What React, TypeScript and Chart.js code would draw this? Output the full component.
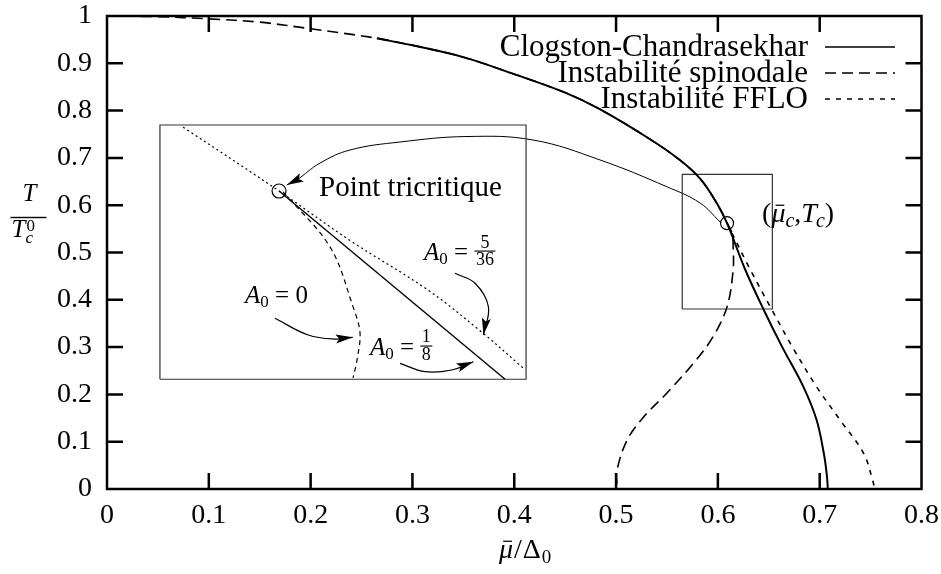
import React, { useEffect, useRef } from 'react';
import { Chart, registerables } from 'chart.js';

Chart.register(...registerables);

const FONT = '"Liberation Serif", "Times New Roman", serif';

// ---------- axes ----------
const xTicks = [0, 0.1, 0.2, 0.3, 0.4, 0.5, 0.6, 0.7, 0.8];
const xTickLabels = ['0', '0.1', '0.2', '0.3', '0.4', '0.5', '0.6', '0.7', '0.8'];
const yTicks = [0, 0.1, 0.2, 0.3, 0.4, 0.5, 0.6, 0.7, 0.8, 0.9, 1];
const yTickLabels = ['0', '0.1', '0.2', '0.3', '0.4', '0.5', '0.6', '0.7', '0.8', '0.9', '1'];

const seriesLabels = ['Clogston-Chandrasekhar', 'Instabilité spinodale', 'Instabilité FFLO'];

// ---------- main curves ----------
// second-order line above the tricritical point
const upperMu = [0, 0.05, 0.1, 0.15, 0.2, 0.265, 0.3, 0.35, 0.4, 0.45, 0.484, 0.533, 0.563, 0.583, 0.599, 0.609];
const upperT = [1, 0.9985, 0.994, 0.987, 0.973, 0.953, 0.938, 0.913, 0.877, 0.838, 0.803, 0.74, 0.695, 0.655, 0.604, 0.562];
const ccStartMu = 0.265;

// Clogston-Chandrasekhar (first-order) below the tricritical point
const ccMu = [0.609, 0.627, 0.645, 0.663, 0.684, 0.697, 0.704, 0.707, 0.708];
const ccT = [0.562, 0.463, 0.379, 0.301, 0.216, 0.146, 0.076, 0.03, 0];

// spinodal instability
const spinMu = [0.609, 0.614, 0.615, 0.615, 0.609, 0.595, 0.576, 0.55, 0.527, 0.511, 0.501, 0.501];
const spinT = [0.562, 0.54, 0.512, 0.463, 0.385, 0.321, 0.266, 0.203, 0.152, 0.104, 0.04, 0];

// FFLO instability
const ffloMu = [0.609, 0.632, 0.653, 0.673, 0.697, 0.72, 0.743, 0.752, 0.754];
const ffloT = [0.562, 0.463, 0.379, 0.301, 0.216, 0.146, 0.076, 0.019, 0];

// ---------- inset (zoom near the tricritical point) ----------
const insetDotMu = [0.0747, 0.169, 0.239, 0.315, 0.369, 0.4086];
const insetDotT = [0.765, 0.63, 0.525, 0.421, 0.33, 0.256];
const insetSolidMu = [0.169, 0.391];
const insetSolidT = [0.63, 0.232];
const insetDashMu = [0.173, 0.219, 0.2417, 0.2485, 0.2456, 0.2417];
const insetDashT = [0.628, 0.512, 0.385, 0.33, 0.273, 0.235];

const insetBoxMu = [0.052, 0.4116];
const insetBoxT = [0.232, 0.7696];
const zoomBoxMu = [0.565, 0.6535];
const zoomBoxT = [0.3805, 0.665];

const tricritMain = { mu: 0.609, t: 0.562 };
const tricritInset = { mu: 0.169, t: 0.63 };

// ---------- arrows ----------
const arcMu = [0.6022, 0.5825, 0.5498, 0.4843, 0.4185, 0.3536, 0.2878, 0.2387, 0.2092, 0.1863, 0.1765];
const arcT = [0.5645, 0.6047, 0.6391, 0.6956, 0.7378, 0.7452, 0.7336, 0.7167, 0.689, 0.6533, 0.6427];
const arrA0Mu = [0.165, 0.1977, 0.224, 0.2414];
const arrA0T = [0.361, 0.3256, 0.317, 0.3207];
const arrA18Mu = [0.2878, 0.3124, 0.3386, 0.3599];
const arrA18T = [0.2657, 0.248, 0.2516, 0.2691];
const arrA536Mu = [0.3418, 0.3615, 0.3746, 0.3697];
const arrA536T = [0.456, 0.4349, 0.3854, 0.3256];

// annotation anchors (left, baseline) in data coordinates
const noteTricrit = { mu: 0.2083, t: 0.6195, text: 'Point tricritique' };
const noteMuTc = { mu: 0.6434, t: 0.5645 };
const noteA536 = { mu: 0.3114, t: 0.4841, num: '5', den: '36' };
const noteA0 = { mu: 0.1356, t: 0.3922, val: '0' };
const noteA18 = { mu: 0.2583, t: 0.2833, num: '1', den: '8' };

const toPts = (xs: number[], ys: number[]) => xs.map((x, i) => ({ x, y: ys[i] }));
const boxPts = (xs: number[], ys: number[]) => [
  { x: xs[0], y: ys[0] }, { x: xs[1], y: ys[0] }, { x: xs[1], y: ys[1] }, { x: xs[0], y: ys[1] }, { x: xs[0], y: ys[0] },
];

function setFont(ctx: CanvasRenderingContext2D, size: number, italic = false) {
  ctx.font = `${italic ? 'italic ' : ''}${size}px ${FONT}`;
}

function drawMuBar(ctx: CanvasRenderingContext2D, x: number, y: number, size: number) {
  setFont(ctx, size, true);
  ctx.fillText('μ', x, y);
  const w = ctx.measureText('μ').width;
  ctx.fillRect(x + w * 0.3, y - size * 0.62, w * 0.62, Math.max(1, size * 0.045));
  return x + w;
}

function drawFrac(ctx: CanvasRenderingContext2D, num: string, den: string, x: number, y: number, fs: number) {
  setFont(ctx, fs);
  const wn = ctx.measureText(num).width;
  const wd = ctx.measureText(den).width;
  const w = Math.max(wn, wd) + 3;
  const bar = y - 9.5;
  ctx.fillRect(x, bar, w, 1.1);
  ctx.fillText(num, x + (w - wn) / 2, bar - 3);
  ctx.fillText(den, x + (w - wd) / 2, bar + 2 + fs * 0.68);
  return x + w;
}

function drawA0(ctx: CanvasRenderingContext2D, x: number, y: number, rhs: { val?: string; num?: string; den?: string }) {
  const S = 25;
  setFont(ctx, S, true);
  ctx.fillText('A', x, y);
  let cx = x + ctx.measureText('A').width;
  setFont(ctx, 17);
  ctx.fillText('0', cx, y + 4);
  cx += ctx.measureText('0').width;
  setFont(ctx, S);
  const eq = ' = ';
  ctx.fillText(eq, cx, y);
  cx += ctx.measureText(eq).width;
  if (rhs.val !== undefined) ctx.fillText(rhs.val, cx, y);
  else drawFrac(ctx, rhs.num || '', rhs.den || '', cx, y, 18);
}

const annotPlugin = {
  id: 'annot',
  afterDatasetsDraw(chart: any) {
    const ctx: CanvasRenderingContext2D = chart.ctx;
    const xs = chart.scales.x;
    const ys = chart.scales.y;
    const ca = chart.chartArea;
    ctx.save();
    ctx.fillStyle = '#000';
    ctx.strokeStyle = '#000';
    ctx.textBaseline = 'alphabetic';
    ctx.textAlign = 'left';

    // arrowheads
    chart.data.datasets.forEach((ds: any, i: number) => {
      if (!ds.arrowHead) return;
      const pts = chart.getDatasetMeta(i).data;
      const n = pts.length;
      const a = pts[n - 2];
      const b = pts[n - 1];
      const dx = b.x - a.x;
      const dy = b.y - a.y;
      const len = Math.hypot(dx, dy) || 1;
      const ux = dx / len;
      const uy = dy / len;
      const L = 17;
      const W = 4.5;
      const bx = b.x - ux * L;
      const by = b.y - uy * L;
      ctx.beginPath();
      ctx.moveTo(b.x, b.y);
      ctx.lineTo(bx - uy * W, by + ux * W);
      ctx.lineTo(b.x - ux * L * 0.8, b.y - uy * L * 0.8);
      ctx.lineTo(bx + uy * W, by - ux * W);
      ctx.closePath();
      ctx.fill();
    });

    // Point tricritique
    setFont(ctx, 29);
    ctx.fillText(noteTricrit.text, xs.getPixelForValue(noteTricrit.mu), ys.getPixelForValue(noteTricrit.t));

    // (mu_c, T_c)
    {
      let x = xs.getPixelForValue(noteMuTc.mu);
      const y = ys.getPixelForValue(noteMuTc.t);
      const S = 28;
      setFont(ctx, S);
      ctx.fillText('(', x, y);
      x += ctx.measureText('(').width;
      x = drawMuBar(ctx, x, y, S);
      setFont(ctx, 20, true);
      ctx.fillText('c', x, y + 5);
      x += ctx.measureText('c').width;
      setFont(ctx, S);
      ctx.fillText(',', x, y);
      x += ctx.measureText(',').width;
      setFont(ctx, S, true);
      ctx.fillText('T', x, y);
      x += ctx.measureText('T').width - 1;
      setFont(ctx, 20, true);
      ctx.fillText('c', x, y + 5);
      x += ctx.measureText('c').width;
      setFont(ctx, S);
      ctx.fillText(')', x, y);
    }

    drawA0(ctx, xs.getPixelForValue(noteA536.mu), ys.getPixelForValue(noteA536.t), noteA536);
    drawA0(ctx, xs.getPixelForValue(noteA0.mu), ys.getPixelForValue(noteA0.t), noteA0);
    drawA0(ctx, xs.getPixelForValue(noteA18.mu), ys.getPixelForValue(noteA18.t), noteA18);

    // legend (text right-aligned, line sample on the right)
    const rows = [31, 57, 83];
    const textRight = ca.right - 113.5;
    const lx0 = ca.right - 96.5;
    const lx1 = ca.right - 26.5;
    for (let i = 0; i < 3; i++) {
      const ds: any = chart.data.datasets[i];
      const y = ca.top + rows[i];
      setFont(ctx, 31);
      ctx.textAlign = 'right';
      ctx.textBaseline = 'middle';
      ctx.fillText(ds.label, textRight, y + 1);
      ctx.beginPath();
      ctx.setLineDash(ds.borderDash || []);
      ctx.lineWidth = 1.5;
      ctx.moveTo(lx0, y);
      ctx.lineTo(lx1, y);
      ctx.stroke();
      ctx.setLineDash([]);
    }
    ctx.textAlign = 'left';
    ctx.textBaseline = 'alphabetic';

    // y-axis title: T / T_c^0
    {
      const cx = 28.5;
      setFont(ctx, 25, true);
      const wT = ctx.measureText('T').width;
      ctx.fillText('T', cx - wT / 2 + 1, 201);
      ctx.fillRect(10.5, 216.8, 36, 1.4);
      ctx.fillText('T', 11.5, 237);
      const x2 = 11.5 + wT;
      setFont(ctx, 17);
      ctx.fillText('0', x2 + 1, 231);
      setFont(ctx, 17, true);
      ctx.fillText('c', x2, 242.5);
    }

    // x-axis title: mu_bar / Delta_0
    {
      const S = 28;
      const y = 558;
      let x = 499;
      x = drawMuBar(ctx, x, y, S);
      setFont(ctx, S);
      ctx.fillText('/', x + 1, y);
      x += ctx.measureText('/').width + 2;
      ctx.fillText('Δ', x, y);
      x += ctx.measureText('Δ').width;
      setFont(ctx, 19);
      ctx.fillText('0', x + 1, y + 5);
    }
    ctx.restore();
  },
  afterDraw(chart: any) {
    const ctx: CanvasRenderingContext2D = chart.ctx;
    const { left, right, top, bottom } = chart.chartArea;
    const xs = chart.scales.x;
    const ys = chart.scales.y;
    const TL = 16;
    ctx.save();
    ctx.strokeStyle = '#000';
    ctx.lineWidth = 2.5;
    ctx.setLineDash([]);
    ctx.strokeRect(left, top, right - left, bottom - top);
    ctx.beginPath();
    xTicks.slice(1, -1).forEach((v) => {
      const px = xs.getPixelForValue(v);
      ctx.moveTo(px, bottom);
      ctx.lineTo(px, bottom - TL);
      ctx.moveTo(px, top);
      ctx.lineTo(px, top + TL);
    });
    yTicks.slice(1, -1).forEach((v) => {
      const py = ys.getPixelForValue(v);
      ctx.moveTo(left, py);
      ctx.lineTo(left + TL, py);
      ctx.moveTo(right, py);
      ctx.lineTo(right - TL, py);
    });
    ctx.stroke();
    ctx.restore();
  },
};

const zeroPad = (s: any) => {
  s.paddingTop = 0;
  s.paddingBottom = 0;
  s.paddingLeft = 0;
  s.paddingRight = 0;
};

export default function App() {
  const ref = useRef<HTMLCanvasElement | null>(null);

  useEffect(() => {
    if (!ref.current) return;
    const upperPts = toPts(upperMu, upperT);
    const ccPts = [...upperPts.filter((p) => p.x >= ccStartMu), ...toPts(ccMu, ccT).slice(1)];
    const spinPts = [...upperPts, ...toPts(spinMu, spinT).slice(1)];
    const ffloPts = toPts(ffloMu, ffloT);

    const line = (data: any[], extra: any = {}) => ({
      data,
      showLine: true,
      borderColor: '#000',
      borderWidth: 1,
      pointRadius: 0,
      fill: false,
      tension: 0.35,
      ...extra,
    });

    const chart = new Chart(ref.current, {
      type: 'scatter',
      data: {
        datasets: [
          line(ccPts, { label: seriesLabels[0], borderWidth: 2 }),
          line(spinPts, { label: seriesLabels[1], borderWidth: 1.6, borderDash: [11, 6] }),
          line(ffloPts, { label: seriesLabels[2], borderWidth: 1.6, borderDash: [5, 6] }),
          line(toPts(insetSolidMu, insetSolidT), { borderWidth: 1.4, tension: 0 }),
          line(toPts(insetDotMu, insetDotT), { borderWidth: 1.2, borderDash: [2, 3] }),
          line(toPts(insetDashMu, insetDashT), { borderWidth: 1.2, borderDash: [5, 4] }),
          line(boxPts(insetBoxMu, insetBoxT), { borderWidth: 1.2, borderColor: '#333', tension: 0 }),
          line(boxPts(zoomBoxMu, zoomBoxT), { borderWidth: 1.2, borderColor: '#333', tension: 0 }),
          line(toPts(arcMu, arcT), { borderWidth: 1, tension: 0.4, arrowHead: true }),
          line(toPts(arrA0Mu, arrA0T), { borderWidth: 1.2, tension: 0.4, arrowHead: true }),
          line(toPts(arrA18Mu, arrA18T), { borderWidth: 1.2, tension: 0.4, arrowHead: true }),
          line(toPts(arrA536Mu, arrA536T), { borderWidth: 1.2, tension: 0.4, arrowHead: true }),
          {
            data: [{ x: tricritMain.mu, y: tricritMain.t }, { x: tricritInset.mu, y: tricritInset.t }],
            showLine: false,
            pointStyle: 'circle',
            pointRadius: [6.5, 7],
            pointBorderWidth: 1.2,
            pointBorderColor: '#000',
            pointBackgroundColor: 'rgba(0,0,0,0)',
          },
        ] as any,
      },
      options: {
        animation: false,
        responsive: true,
        maintainAspectRatio: false,
        events: [],
        layout: { padding: { left: 0, right: 19.5, top: 16, bottom: 0 } },
        plugins: { legend: { display: false }, tooltip: { enabled: false } },
        scales: {
          x: {
            type: 'linear',
            min: 0,
            max: 0.8,
            afterBuildTicks: (s: any) => {
              s.ticks = xTicks.map((v) => ({ value: v }));
            },
            afterFit: (s: any) => {
              s.height = 85;
              zeroPad(s);
            },
            ticks: {
              autoSkip: false,
              maxRotation: 0,
              padding: 10,
              color: '#000',
              font: { family: FONT, size: 28 },
              callback: (_v: any, i: number) => xTickLabels[i],
            },
            grid: { display: false, drawTicks: false },
            border: { display: false },
          },
          y: {
            type: 'linear',
            min: 0,
            max: 1,
            afterBuildTicks: (s: any) => {
              s.ticks = yTicks.map((v) => ({ value: v }));
            },
            afterFit: (s: any) => {
              s.width = 107;
              zeroPad(s);
            },
            ticks: {
              autoSkip: false,
              padding: 15,
              color: '#000',
              font: { family: FONT, size: 28 },
              callback: (_v: any, i: number) => yTickLabels[i],
            },
            grid: { display: false, drawTicks: false },
            border: { display: false },
          },
        },
      } as any,
      plugins: [annotPlugin],
    });
    return () => chart.destroy();
  }, []);

  return (
    <div style={{ position: 'fixed', left: 0, top: 0, width: 941, height: 574, background: '#fff' }}>
      <canvas ref={ref} />
    </div>
  );
}
